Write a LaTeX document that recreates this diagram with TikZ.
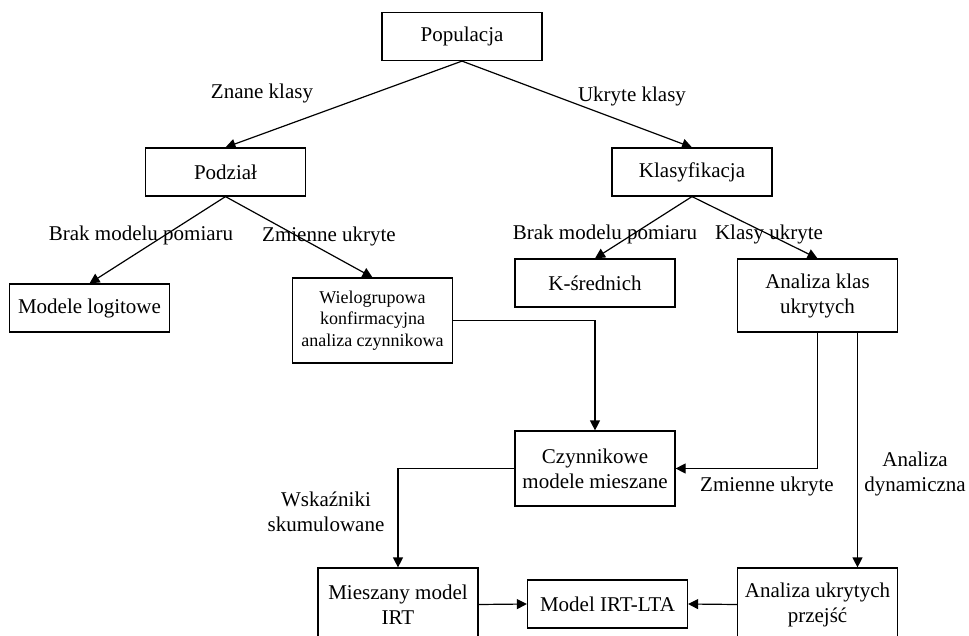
\documentclass[tikz,border=0pt]{standalone}
\usepackage{fontspec}
\setmainfont{Liberation Serif}
\usetikzlibrary{arrows.meta}
\tikzset{
  box/.style= {draw, line width=0.6pt, minimum width=80pt, minimum height=24pt, inner sep=2pt, align=center, font=\fontsize{10.5}{12.5}\selectfont},
  smallbox/.style= {box, font=\fontsize{9}{10.75}\selectfont},
  lbl/.style= {align=center, inner sep=1pt, font=\fontsize{10.5}{12.5}\selectfont},
  conn/.style= {line width=0.6pt, -{Triangle[length=5pt, width=5pt]}},
}

\begin{document}
\begin{tikzpicture}[x=0.5pt, y=-0.5pt]
  \clip (0,0) rectangle (969,636);
  \node [box] (pop) at (462,36.5) {Populacja} ;
  \node [box] (pod) at (225.5,172) {Podział} ;
  \node [box] (kla) at (692,172) {Klasyfikacja} ;
  \node [box] (log) at (89.5,308) {Modele logitowe} ;
  \node [smallbox, minimum height=42.5pt] (wiel) at (372.5,320.5) {Wielogrupowa\\konfirmacyjna\\analiza czynnikowa} ;
  \node [box] (ksr) at (595,283) {K-średnich} ;
  \node [box, minimum height=36.5pt] (akl) at (817.5,295.5) {Analiza klas\\ukrytych} ;
  \node [box, minimum height=37.5pt] (czyn) at (595,468.5) {Czynnikowe\\modele mieszane} ;
  \node [box, minimum height=36.5pt] (mie) at (398,604.5) {Mieszany model\\IRT} ;
  \node [box] (irt) at (607.5,604) {Model IRT-LTA} ;
  \node [box, minimum height=36.5pt] (aup) at (817.5,604.5) {Analiza ukrytych\\przejść} ;

  \node [lbl] (znane) at (262,93) {Znane klasy} ;
  \node [lbl] (ukr) at (632,96) {Ukryte klasy} ;
  \node [lbl] (brak1) at (141,235) {Brak modelu pomiaru} ;
  \node [lbl] (zm1) at (329,236) {Zmienne ukryte} ;
  \node [lbl] (brak2) at (605,234) {Brak modelu pomiaru} ;
  \node [lbl] (kukr) at (769,234) {Klasy ukryte} ;
  \node [lbl] (wsk) at (326,512) {Wskaźniki\\skumulowane} ;
  \node [lbl] (zm2) at (767,486) {Zmienne ukryte} ;
  \node [lbl] (dyn) at (915,474) {Analiza\\dynamiczna} ;

  \draw [conn] (pop.south) -- (pod.north) ;
  \draw [conn] (pop.south) -- (kla.north) ;
  \draw [conn] (pod.south) -- (log.north) ;
  \draw [conn] (pod.south) -- (wiel.north) ;
  \draw [conn] (kla.south) -- (ksr.north) ;
  \draw [conn] (kla.south) -- (akl.north) ;
  \draw [conn] (wiel.east) -| (czyn.north) ;
  \draw [conn] (akl.south) |- (czyn.east) ;
  \draw [conn] ([xshift=20pt]akl.south) -- ([xshift=20pt]aup.north) ;
  \draw [conn] (czyn.west) -| (mie.north) ;
  \draw [conn] (mie.east) -- (irt.west) ;
  \draw [conn] (aup.west) -- (irt.east) ;
\end{tikzpicture}
\end{document}
